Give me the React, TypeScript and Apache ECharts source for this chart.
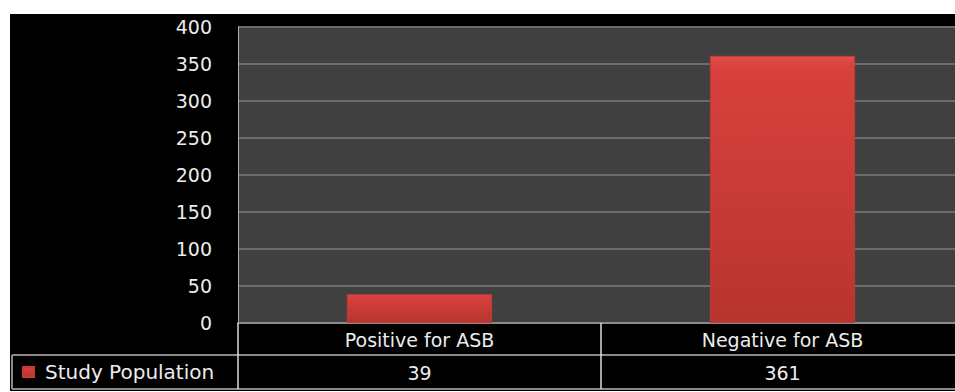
import React, { useEffect, useRef } from "react";
import * as echarts from "echarts";

const categories = ["Positive for ASB", "Negative for ASB"];
const seriesName = "Study Population";
const values = [39, 361];
const yTicks = { min: 0, max: 400, interval: 50 };

const W = 955;
const H = 392;
const CW = 964; // canvas is wider; the plot runs past the right edge of the picture
const GRID_LEFT = 238;
const GRID_TOP = 27;
const PLOT_BOTTOM = 323;
const ROW1 = 355;
const ROW2 = 389;
const FONT = "'DejaVu Sans', 'Open Sans', sans-serif";
const TXT = "#ececec";

export default function App() {
  const ref = useRef<HTMLDivElement>(null);
  useEffect(() => {
    if (!ref.current) return;
    const chart = echarts.init(ref.current, undefined, { renderer: "svg" });
    const catW = (CW - GRID_LEFT) / categories.length;
    const dividers = categories.slice(1).map((_, i) => GRID_LEFT + catW * (i + 1));
    const lineGray = "#8a8a8a";
    const lineWhite = "#dcdcdc";
    chart.setOption({
      animation: false,
      backgroundColor: "#000",
      grid: {
        left: GRID_LEFT,
        top: GRID_TOP,
        right: 0,
        bottom: H - PLOT_BOTTOM,
        show: true,
        backgroundColor: "#404040",
        borderWidth: 0,
      },
      legend: {
        data: [seriesName],
        left: 22,
        top: 362,
        padding: 0,
        icon: "rect",
        itemWidth: 11,
        itemHeight: 10,
        textStyle: { color: TXT, fontSize: 20, fontFamily: FONT, lineHeight: 20, padding: [0, 0, 0, 6] },
      },
      xAxis: {
        type: "category",
        data: categories,
        axisLine: { show: true, lineStyle: { color: lineGray, width: 2 } },
        axisTick: { show: false },
        axisLabel: {
          margin: 0,
          interval: 0,
          formatter: (v: string, i: number) => `{a|${v}}\n{b|${values[i]}}`,
          rich: {
            a: { color: TXT, fontSize: 19, fontFamily: FONT, lineHeight: 33 },
            b: { color: TXT, fontSize: 19, fontFamily: FONT, lineHeight: 33 },
          },
        },
      },
      yAxis: {
        type: "value",
        min: yTicks.min,
        max: yTicks.max,
        interval: yTicks.interval,
        axisLine: { show: true, lineStyle: { color: "#b0b0b0", width: 1 } },
        axisTick: { show: false },
        splitLine: { lineStyle: { color: "#6c6c6c", width: 2 } },
        axisLabel: { color: TXT, fontSize: 19, fontFamily: FONT, margin: 26 },
      },
      series: [
        {
          name: seriesName,
          type: "bar",
          data: values,
          barWidth: "40%",
          itemStyle: {
            color: new echarts.graphic.LinearGradient(0, 0, 0, 1, [
              { offset: 0, color: "#e0514c" },
              { offset: 0.04, color: "#d8413d" },
              { offset: 1, color: "#b8342f" },
            ]),
            borderColor: "#c23a36",
            borderWidth: 1,
          },
        },
      ],
      graphic: [
        { type: "rect", shape: { x: 0, y: 0, width: CW, height: 14 }, style: { fill: "#fff" }, z: 100 },
        { type: "rect", shape: { x: 0, y: 0, width: 10, height: H }, style: { fill: "#fff" }, z: 100 },
        { type: "rect", shape: { x: 0, y: 391, width: CW, height: 1 }, style: { fill: "#fff" }, z: 100 },
        { type: "line", shape: { x1: 12, y1: ROW1, x2: CW, y2: ROW1 }, style: { stroke: lineGray, lineWidth: 2 }, z: 50 },
        { type: "line", shape: { x1: 12, y1: ROW2, x2: CW, y2: ROW2 }, style: { stroke: lineGray, lineWidth: 2 }, z: 50 },
        { type: "line", shape: { x1: 12, y1: ROW1, x2: 12, y2: ROW2 }, style: { stroke: lineGray, lineWidth: 2 }, z: 50 },
        { type: "line", shape: { x1: GRID_LEFT, y1: PLOT_BOTTOM, x2: GRID_LEFT, y2: ROW2 }, style: { stroke: lineWhite, lineWidth: 1.5 }, z: 50 },
        ...dividers.map((x) => ({
          type: "line",
          shape: { x1: x, y1: PLOT_BOTTOM, x2: x, y2: ROW2 },
          style: { stroke: lineWhite, lineWidth: 1.5 },
          z: 50,
        })),
      ],
    });
    return () => chart.dispose();
  }, []);
  return (
    <div style={{ position: "fixed", left: 0, top: 0, width: W, height: H, overflow: "hidden" }}>
      <div ref={ref} style={{ width: CW, height: H }} />
    </div>
  );
}
